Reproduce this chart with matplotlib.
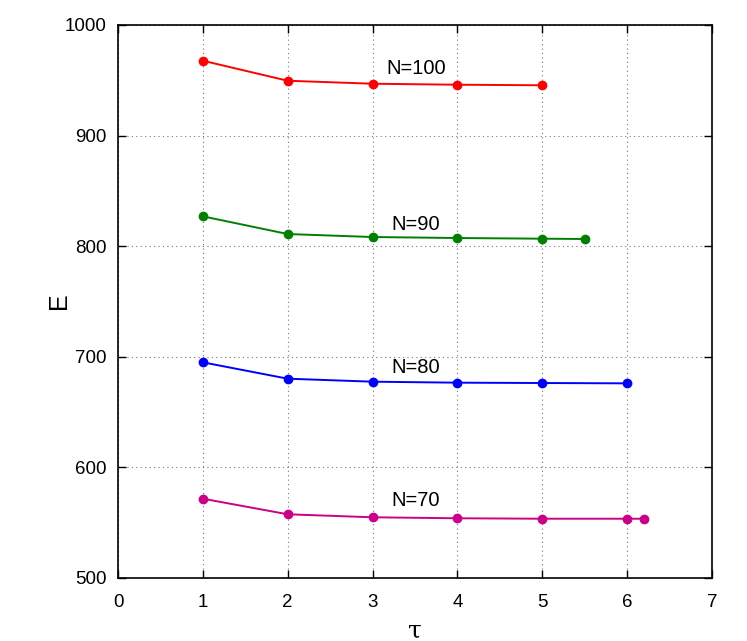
import matplotlib
matplotlib.use("Agg")
import matplotlib.pyplot as plt

tau_100 = [1, 2, 3, 4, 5]
E_100 = [967.7, 949.6, 946.9, 946.0, 945.5]
tau_90 = [1, 2, 3, 4, 5, 5.5]
E_90 = [827.0, 811.0, 808.3, 807.4, 806.8, 806.5]
tau_80 = [1, 2, 3, 4, 5, 6]
E_80 = [695.0, 680.2, 677.5, 676.6, 676.3, 676.0]
tau_70 = [1, 2, 3, 4, 5, 6, 6.2]
E_70 = [571.7, 557.6, 554.9, 554.0, 553.6, 553.6, 553.6]

labels = ["N=100", "N=90", "N=80", "N=70"]
label_pos = [(3.51, 961), (3.51, 820), (3.51, 690), (3.51, 570)]
colors = ["#ff0000", "#008000", "#0000ff", "#cc0088"]

plt.rcParams['font.family'] = ['Liberation Sans', 'DejaVu Sans']

fig = plt.figure(figsize=(7.47, 6.41), dpi=100)
ax = fig.add_axes([118/747, 63/641, (712-118)/747, (578-25)/641])

series = [(tau_100, E_100), (tau_90, E_90), (tau_80, E_80), (tau_70, E_70)]
for (x, y), c, lab, pos in zip(series, colors, labels, label_pos):
    ax.plot(x, y, color=c, lw=1.4, marker='o', markersize=6, zorder=3)
    ax.text(pos[0], pos[1], lab, fontsize=14.5, ha='center', va='center')

ax.set_xlim(0, 7)
ax.set_ylim(500, 1000)
ax.set_xticks(range(0, 8))
ax.set_yticks(range(500, 1001, 100))
ax.grid(True, linestyle=(0, (1, 3)), color='#777777', lw=0.8)
ax.tick_params(direction='in', top=True, right=True, labelsize=13.5, length=6, width=1)
ax.tick_params(axis='x', pad=11.5)
ax.tick_params(axis='y', pad=8)
for s in ax.spines.values():
    s.set_linewidth(1.2)

fig.text(415/747, 1 - 637/641, 'τ', fontsize=18, family=['DejaVu Serif'],
         ha='center', va='baseline')
fig.text(66/747, 1 - 301/641, 'E', fontsize=18, rotation=90, rotation_mode='anchor',
         ha='center', va='baseline')

fig.savefig('out.png', dpi=100)
